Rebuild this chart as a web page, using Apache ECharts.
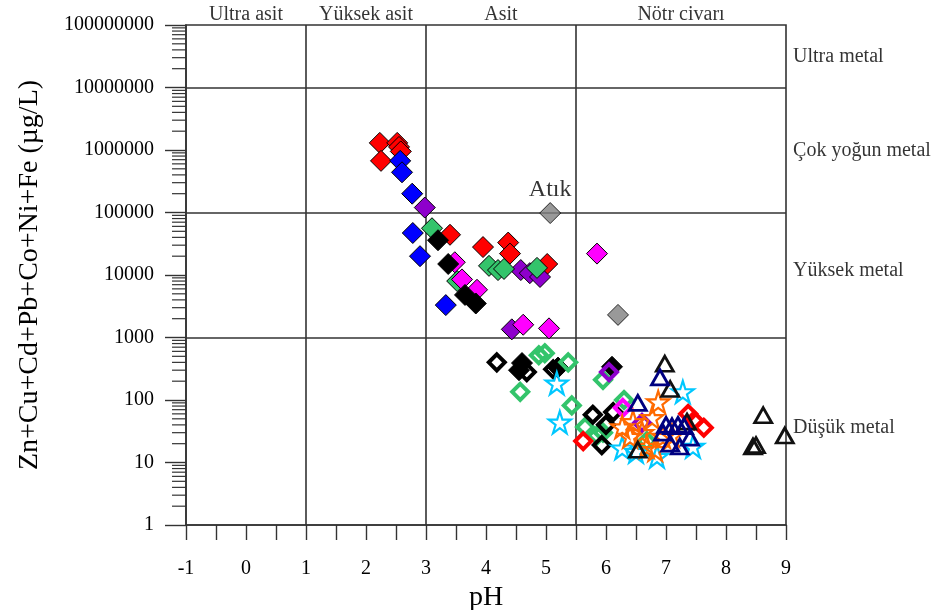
<!DOCTYPE html>
<html><head><meta charset="utf-8">
<script src="https://cdn.jsdelivr.net/npm/echarts@6/dist/echarts.min.js"></script>
<style>html,body{margin:0;padding:0;background:#fff}#c{width:941px;height:610px}</style>
</head><body><div id="c"></div>
<script>
// ---- data (pH, metal sum µg/L) ----
const redFilled = [[2.23,1.3e6],[2.25,6.7e5],[2.52,1.3e6],[2.55,1.12e6],[2.58,9.5e5],[3.4,4.4e4],[3.95,2.8e4],[4.37,3.3e4],[4.4,2.2e4],[5.02,1.5e4]];
const blueFilled = [[2.57,6.7e5],[2.6,4.4e5],[2.77,2e5],[2.78,4.7e4],[2.9,2e4],[3.33,3.3e3]];
const purpleFilled = [[2.98,1.2e5],[4.58,1.2e4],[4.73,1.07e4],[4.9,9.3e3],[4.43,1.35e3]];
const greenFilled = [[3.1,5.6e4],[3.52,8e3],[4.05,1.4e4],[4.2,1.2e4],[4.3,1.25e4],[4.85,1.3e4]];
const magentaFilled = [[3.48,1.6e4],[3.6,8.5e3],[3.85,5.8e3],[4.62,1.6e3],[5.05,1.4e3],[5.85,2.2e4]];
const blackFilled = [[3.2,3.6e4],[3.37,1.5e4],[3.65,4.8e3],[3.83,3.5e3],[4.6,390],[4.55,300],[5.2,330],[6.1,340]];
const grayFilled = [[5.07,9.8e4],[6.2,2.3e3]];
const grayLabels = ['Atık',''];
const greenOpen = [[4.88,520],[4.98,560],[5.37,400],[4.57,135],[5.43,82],[5.65,37],[5.85,27],[5.95,210],[6.3,100],[5.95,30],[6.68,22]];
const blackOpen = [[4.18,400],[4.68,280],[5.12,310],[5.78,58],[5.93,19],[6.12,64],[6.0,40]];
const redOpen = [[5.62,22],[7.37,60],[7.47,47],[7.63,36]];
const purpleOpen = [[6.05,280],[6.6,43]];
const magentaOpen = [[6.28,75]];
const skyStars = [[5.18,185],[5.23,44],[7.28,135],[6.27,17],[6.5,15],[6.85,12.5],[7.45,18]];
const orangeStars = [[6.87,93],[6.27,37],[6.77,52],[6.6,30],[6.4,26],[6.68,18],[6.95,26],[7.1,27],[6.82,16],[6.45,45]];
const blackTri = [[6.98,380],[7.07,150],[6.53,16],[7.35,45],[8.62,57],[8.45,18],[8.5,19],[8.98,27]];
const navyTri = [[6.9,230],[6.53,90],[7.0,40],[7.1,38],[7.2,40],[7.3,38],[7.07,20],[7.23,18],[7.4,25],[6.95,30]];

// ---- zones / axis texts ----
const zoneNames = ['Ultra asit','Yüksek asit','Asit','Nötr civarı'];
const zoneCenters = [0,2,4.25,7.25];
const metalNames = ['Ultra metal','Çok yoğun metal','Yüksek metal','Düşük metal'];
const metalLevels = [3.1e7,9.6e5,1.15e4,36];
const phBounds = [1,3,5.5];
const metalBounds = [1e3,1e5,1e7];
const xMin = -1, xMax = 9, yMin = 1, yMax = 1e8;
const xTitle = 'pH';
const yTitle = 'Zn+Cu+Cd+Pb+Co+Ni+Fe (µg/L)';

const FONT = "'Liberation Serif','Times New Roman',serif";
const LINE = '#333';
const STAR = 'path://M50 0 L61.23 34.55 L97.55 34.55 L68.16 55.9 L79.39 90.45 L50 69.1 L20.61 90.45 L31.84 55.9 L2.45 34.55 L38.77 34.55 Z';

// minor ticks for log axis (2..9 per decade)
const minorTicks = [];
for (let k = 0; k < 8; k++) for (let m = 2; m <= 9; m++) minorTicks.push([xMin, m * Math.pow(10, k)]);

function filled(data, color) {
  return {type:'scatter', data, symbol:'diamond', symbolSize:21, z:3,
    itemStyle:{color, borderColor:'#000', borderWidth:1, opacity:1}};
}
function openD(data, color) {
  return {type:'scatter', data, symbol:'diamond', symbolSize:16, z:4,
    itemStyle:{color:'none', borderColor:color, borderWidth:4, opacity:1}};
}
function tri(data, color) {
  return {type:'scatter', data, symbol:'triangle', symbolSize:[17,15], z:5,
    itemStyle:{color:'none', borderColor:color, borderWidth:2.8, opacity:1}};
}
function star(data, color) {
  return {type:'scatter', data, symbol:STAR, symbolSize:22, z:5,
    itemStyle:{color:'none', borderColor:color, borderWidth:2.2, opacity:1}};
}

const chart = echarts.init(document.getElementById('c'), null, {renderer:'canvas'});
const txt = {fontFamily:FONT, fontSize:20, color:'#000'};

chart.setOption({
  animation:false,
  backgroundColor:'#fff',
  grid:{left:186, right:155, top:25, bottom:85, containLabel:false, outerBoundsMode:'none',
    show:true, borderColor:LINE, borderWidth:1.6, backgroundColor:'transparent'},
  xAxis:{type:'value', min:xMin, max:xMax, interval:0.5,
    name:xTitle, nameLocation:'middle', nameGap:56,
    nameTextStyle:{fontFamily:FONT, fontSize:28, color:'#000'},
    axisLine:{show:true, onZero:false, lineStyle:{color:LINE, width:1.6}},
    axisTick:{show:true, inside:false, length:15, lineStyle:{color:LINE, width:1.4}},
    axisLabel:{...txt, margin:34, formatter:v => Number.isInteger(v) ? String(v) : ''},
    splitLine:{show:false}},
  yAxis:{type:'log', logBase:10, min:yMin, max:yMax, splitNumber:8,
    name:yTitle, nameLocation:'middle', nameGap:142,
    nameTextStyle:{fontFamily:FONT, fontSize:28, color:'#000'},
    axisLine:{show:true, onZero:false, lineStyle:{color:LINE, width:1.6}},
    axisTick:{show:true, inside:false, length:21, lineStyle:{color:LINE, width:1.4}},
    axisLabel:{...txt, margin:32, formatter:v => String(Math.round(v))},
    splitLine:{show:false}, minorTick:{show:false}},
  series:[
    {type:'scatter', name:'zones', symbolSize:0.1, clip:false, z:1,
      itemStyle:{color:'transparent'},
      data: zoneCenters.map((c,i)=>({value:[c,yMax], name:zoneNames[i]})),
      label:{show:true, position:'top', distance:0, formatter:p=>p.name, ...txt, lineHeight:20},
      markLine:{silent:true, symbol:'none', z:1, label:{show:false},
        lineStyle:{color:LINE, width:1.6, type:'solid'},
        data: phBounds.map(b=>({xAxis:b})).concat(metalBounds.map(b=>({yAxis:b})))}},
    {type:'scatter', name:'metal', symbolSize:0.1, clip:false, z:1,
      itemStyle:{color:'transparent'},
      data: metalLevels.map((c,i)=>({value:[xMax,c], name:metalNames[i]})),
      label:{show:true, position:'right', distance:7, formatter:p=>p.name, ...txt}},
    {type:'custom', name:'minor', coordinateSystem:'cartesian2d', clip:false, silent:true, z:2,
      data:minorTicks,
      renderItem:(params, api)=>{
        const p = api.coord([api.value(0), api.value(1)]);
        return {type:'line', shape:{x1:p[0]-14, y1:p[1], x2:p[0], y2:p[1]},
          style:{stroke:LINE, lineWidth:1.2}};
      }},
    filled(redFilled,'#ff0000'),
    filled(blueFilled,'#0000ff'),
    filled(purpleFilled,'#8e00cc'),
    filled(greenFilled,'#33c46b'),
    filled(magentaFilled,'#ff00ff'),
    filled(blackFilled,'#000000'),
    {type:'scatter', symbol:'diamond', symbolSize:21, z:3,
      itemStyle:{color:'#808080', borderColor:'#000', borderWidth:1},
      data: grayFilled.map((d,i)=>({value:d, name:grayLabels[i]})),
      label:{show:true, position:'top', distance:0, formatter:p=>p.name, fontFamily:FONT, fontSize:24, color:'#000'}},
    openD(greenOpen,'#33c46b'),
    openD(blackOpen,'#000000'),
    openD(redOpen,'#ff0000'),
    openD(purpleOpen,'#8e00cc'),
    openD(magentaOpen,'#ff00ff'),
    star(skyStars,'#00c8ff'),
    star(orangeStars,'#ff6a00'),
    tri(blackTri,'#111111'),
    tri(navyTri,'#000080')
  ]
});
</script></body></html>
